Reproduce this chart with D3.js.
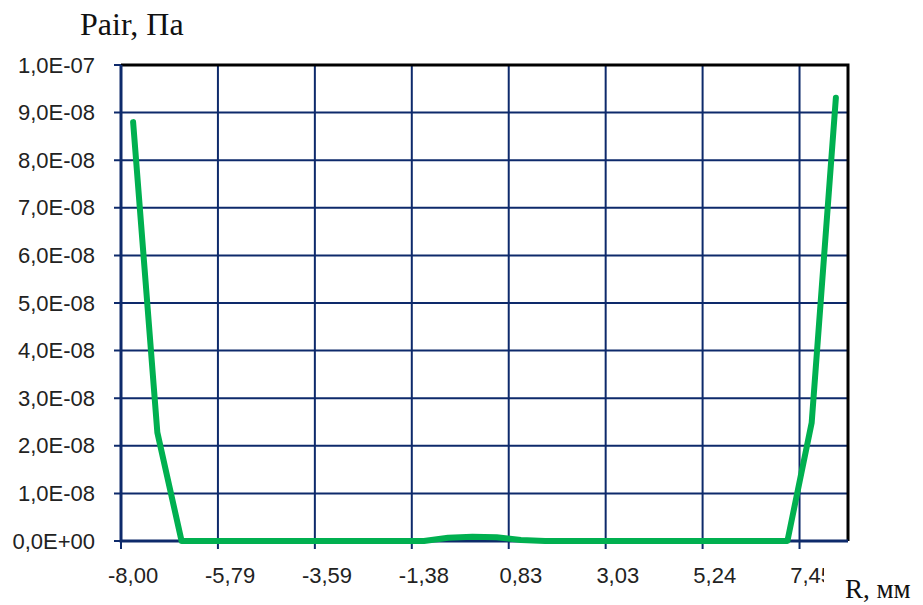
<!DOCTYPE html>
<html>
<head>
<meta charset="utf-8">
<script src="https://cdn.jsdelivr.net/npm/d3@7"></script>
<style>
  body { margin: 0; background: #fff; }
</style>
</head>
<body>
<svg width="923" height="605"></svg>
<script>
// radius categories, mm
const rCategories = [-8.00, -7.45, -6.90, -6.34, -5.79, -5.24, -4.69, -4.14, -3.59, -3.03,
  -2.48, -1.93, -1.38, -0.83, -0.28, 0.28, 0.83, 1.38, 1.93, 2.48,
  3.03, 3.59, 4.14, 4.69, 5.24, 5.79, 6.34, 6.90, 7.45, 8.00]
// air pressure, Pa
const pAir = [8.80e-8, 2.28e-8, 0, 0, 0, 0, 0, 0, 0, 0,
  0, 0, 0, 0.07e-8, 0.09e-8, 0.08e-8, 0.02e-8, 0, 0, 0,
  0, 0, 0, 0, 0, 0, 0, 0, 2.48e-8, 9.31e-8]
const xLabelIdx = [0, 4, 8, 12, 16, 20, 24, 28]
const yTicks = [0, 1e-8, 2e-8, 3e-8, 4e-8, 5e-8, 6e-8, 7e-8, 8e-8, 9e-8, 1e-7]

const svg = d3.select("svg")
const plotL = 121, plotR = 848, plotT = 65, plotB = 541
const navy = "#0e2a6b"
const sans = "'Liberation Sans', Arial, sans-serif"
const serif = "'Liberation Serif', 'Times New Roman', serif"

const x = d3.scaleBand()
  .domain(d3.range(rCategories.length))
  .range([plotL, plotR])
const y = d3.scaleLinear()
  .domain([0, 1e-7])
  .range([plotB, plotT])

const fmtY = v => {
  const [m, e] = v.toExponential(1).split("e")
  const n = +e
  return m.replace(".", ",") + "E" + (n < 0 ? "-" : "+") + String(Math.abs(n)).padStart(2, "0")
}
const fmtX = v => v.toFixed(2).replace(".", ",")

// horizontal grid + y tick marks
svg.append("g").selectAll("line")
  .data(yTicks)
  .join("line")
  .attr("x1", plotL - 7)
  .attr("x2", plotR)
  .attr("y1", d => y(d))
  .attr("y2", d => y(d))
  .attr("stroke", navy)
  .attr("stroke-width", 2)

// vertical grid at category boundaries + x tick marks
svg.append("g").selectAll("line")
  .data(xLabelIdx)
  .join("line")
  .attr("x1", d => x(d))
  .attr("x2", d => x(d))
  .attr("y1", plotT)
  .attr("y2", plotB + 8)
  .attr("stroke", navy)
  .attr("stroke-width", 2)

// black frame top/right
svg.append("path")
  .attr("d", `M${plotL},${plotT}H${plotR}V${plotB}`)
  .attr("fill", "none")
  .attr("stroke", "#000")
  .attr("stroke-width", 3)

// axis lines
svg.append("path")
  .attr("d", `M${plotL},${plotT}V${plotB}H${plotR}`)
  .attr("fill", "none")
  .attr("stroke", navy)
  .attr("stroke-width", 3)

// y labels
const yAxis = svg.append("g")
  .attr("transform", `translate(${plotL - 26},0)`)
  .call(d3.axisLeft(y).tickValues(yTicks).tickFormat(fmtY).tickSize(0).tickPadding(0))
yAxis.select(".domain").remove()
yAxis.selectAll("text")
  .attr("font-family", sans)
  .attr("font-size", 22)
  .attr("fill", "#222")

// x labels
const xAxis = svg.append("g")
  .attr("transform", `translate(0,${plotB + 26})`)
  .call(d3.axisBottom(x).tickValues(xLabelIdx).tickFormat(i => fmtX(rCategories[i])).tickSize(0).tickPadding(0))
xAxis.select(".domain").remove()
xAxis.selectAll("text")
  .attr("font-family", sans)
  .attr("font-size", 22)
  .attr("fill", "#222")

// line
const line = d3.line()
  .x((d, i) => x(i) + x.bandwidth() / 2)
  .y(d => y(d))
svg.append("path")
  .datum(pAir)
  .attr("d", line)
  .attr("fill", "none")
  .attr("stroke", "#00b050")
  .attr("stroke-width", 6)
  .attr("stroke-linejoin", "round")
  .attr("stroke-linecap", "round")

// axis titles
svg.append("text")
  .attr("x", 80)
  .attr("y", 35)
  .attr("font-family", serif)
  .attr("font-size", 32)
  .attr("fill", "#111")
  .text("Pair, Па")

svg.append("rect")
  .attr("x", 824)
  .attr("y", 560)
  .attr("width", 99)
  .attr("height", 45)
  .attr("fill", "#fff")
svg.append("text")
  .attr("x", 845)
  .attr("y", 598)
  .attr("font-family", serif)
  .attr("font-size", 27)
  .attr("fill", "#111")
  .text("R, мм")
</script>
</body>
</html>
